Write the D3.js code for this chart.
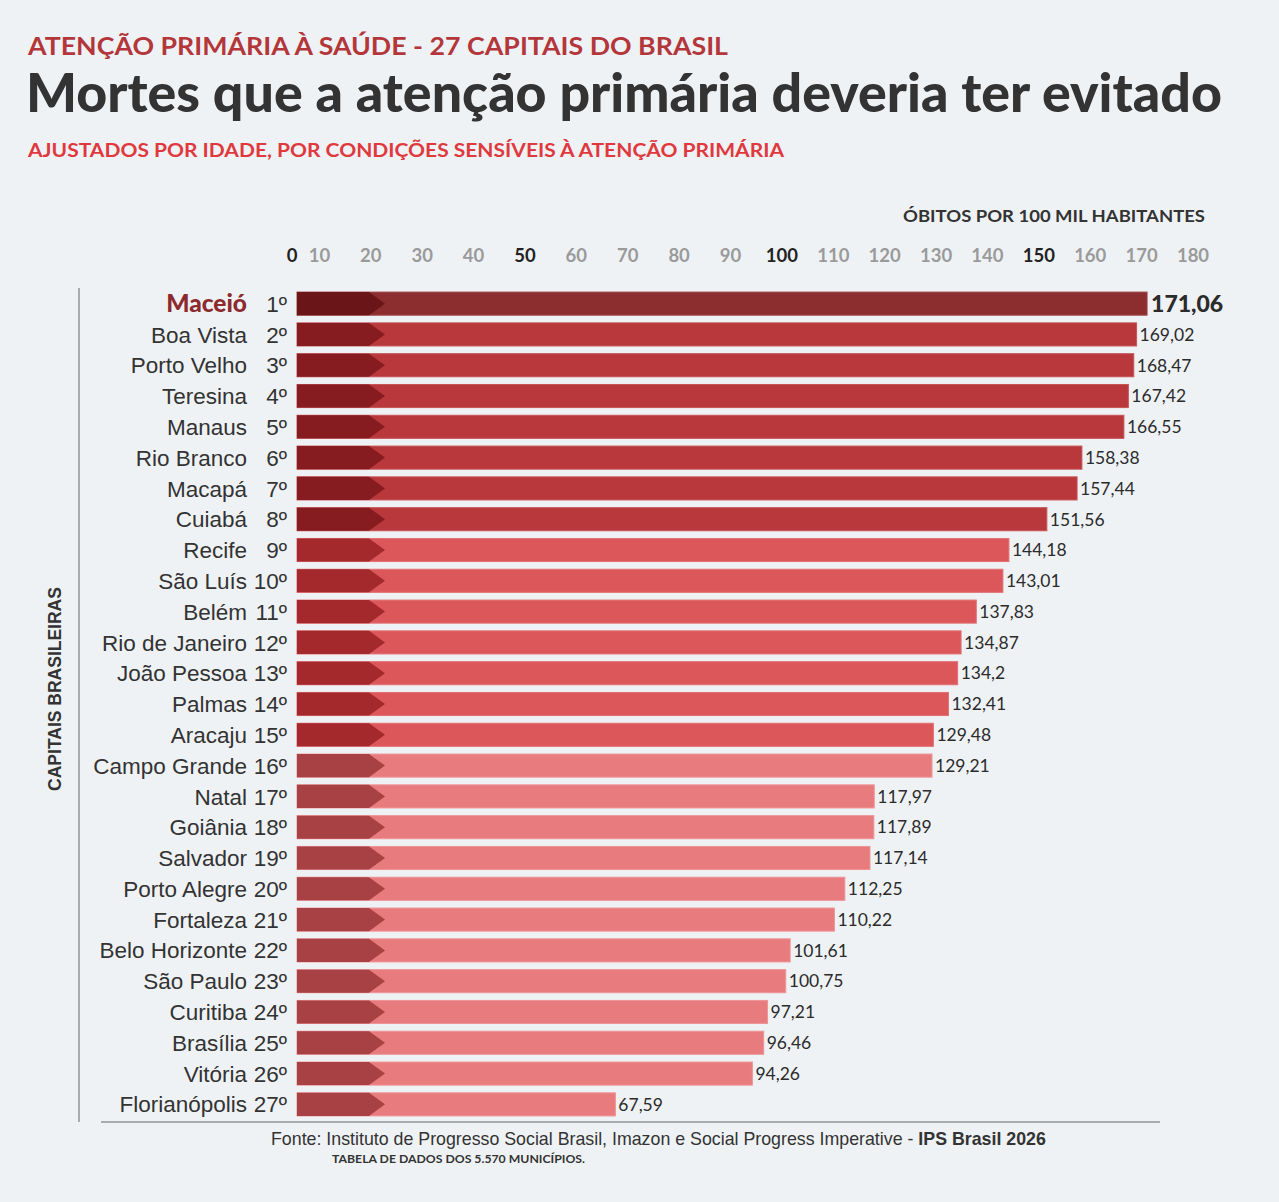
<!DOCTYPE html>
<html>
<head>
<meta charset="utf-8">
<script src="https://cdn.jsdelivr.net/npm/d3@7"></script>
<style>
  body { margin: 0; background: #eff2f5; }
  svg { display: block; }
</style>
</head>
<body>
<div id="chart"></div>
<script>
// Data
const cities = ["Maceió", "Boa Vista", "Porto Velho", "Teresina", "Manaus", "Rio Branco", "Macapá",
    "Cuiabá", "Recife", "São Luís", "Belém", "Rio de Janeiro", "João Pessoa", "Palmas", "Aracaju",
    "Campo Grande", "Natal", "Goiânia", "Salvador", "Porto Alegre", "Fortaleza", "Belo Horizonte",
    "São Paulo", "Curitiba", "Brasília", "Vitória", "Florianópolis"];
const values = [171.06, 169.02, 168.47, 167.42, 166.55, 158.38, 157.44, 151.56, 144.18, 143.01,
    137.83, 134.87, 134.2, 132.41, 129.48, 129.21, 117.97, 117.89, 117.14, 112.25, 110.22, 101.61,
    100.75, 97.21, 96.46, 94.26, 67.59];
const ticks = [0, 10, 20, 30, 40, 50, 60, 70, 80, 90, 100, 110, 120, 130, 140, 150, 160, 170, 180];
const majorTicks = [0, 50, 100, 150];

const data = cities.map((c, i) => ({ city: c, value: values[i], rank: i + 1 }));

const W = 1279, H = 1202;
const svg = d3.select("#chart").append("svg")
    .attr("width", W)
    .attr("height", H);

svg.append("rect").attr("width", W).attr("height", H).attr("fill", "#eff2f5");

// Scales
const barLeft = 297;
const x = d3.scaleLinear().domain([0, 180]).range([268, 1193]);
const y = d3.scaleBand()
    .domain(data.map(d => d.rank))
    .range([289, 1119])
    .paddingInner(0.25)
    .paddingOuter(0.1);

const mainColor = d3.scaleThreshold().domain([2, 9, 16])
    .range(["#8c2d2f", "#b9383b", "#dc575a", "#e77b7d"]);
const darkColor = d3.scaleThreshold().domain([2, 9, 16])
    .range(["#6a1619", "#861c20", "#a3292d", "#a74144"]);
const edgeColor = d3.scaleThreshold().domain([2, 9, 16])
    .range(["#9e4446", "#c65457", "#e27174", "#ee9496"]);

// Titles
svg.append("text")
    .attr("x", 28).attr("y", 55)
    .attr("textLength", 700).attr("lengthAdjust", "spacingAndGlyphs")
    .style("font-family", "Lato, 'Open Sans', sans-serif")
    .style("font-weight", "bold").style("font-size", "25px")
    .attr("fill", "#b3373a")
    .text("ATENÇÃO PRIMÁRIA À SAÚDE - 27 CAPITAIS DO BRASIL");

svg.append("text")
    .attr("x", 26).attr("y", 112)
    .attr("textLength", 1196).attr("lengthAdjust", "spacingAndGlyphs")
    .style("font-family", "Lato, 'Open Sans', sans-serif")
    .style("font-weight", "900").style("font-size", "54px")
    .attr("fill", "#333333")
    .text("Mortes que a atenção primária deveria ter evitado");

svg.append("text")
    .attr("x", 28).attr("y", 157)
    .attr("textLength", 756).attr("lengthAdjust", "spacingAndGlyphs")
    .style("font-family", "Lato, 'Open Sans', sans-serif")
    .style("font-weight", "bold").style("font-size", "19px")
    .attr("fill", "#df393e")
    .text("AJUSTADOS POR IDADE, POR CONDIÇÕES SENSÍVEIS À ATENÇÃO PRIMÁRIA");

// Axis title and tick labels on top
svg.append("text")
    .attr("x", 1205).attr("y", 222)
    .attr("text-anchor", "end")
    .attr("textLength", 302).attr("lengthAdjust", "spacingAndGlyphs")
    .style("font-family", "Lato, 'Open Sans', sans-serif")
    .style("font-weight", "bold").style("font-size", "17px")
    .attr("fill", "#333333")
    .text("ÓBITOS POR 100 MIL HABITANTES");

const xAxis = d3.axisTop(x).tickValues(ticks).tickSize(0).tickPadding(0);
const axisG = svg.append("g")
    .attr("transform", "translate(0,262)")
    .call(xAxis);
axisG.select(".domain").remove();
axisG.selectAll(".tick")
    .attr("transform", d => `translate(${Math.max(x(d), barLeft - 5)},0)`);
axisG.selectAll(".tick text")
    .style("font-family", "Lato, 'Open Sans', sans-serif")
    .style("font-weight", "bold").style("font-size", "18.5px")
    .attr("fill", d => majorTicks.includes(d) ? "#222222" : "#9a9a9a");

// Left axis line and bottom rule
svg.append("line")
    .attr("x1", 79).attr("x2", 79)
    .attr("y1", 288).attr("y2", 1122)
    .attr("stroke", "#a9abae").attr("stroke-width", 2);
svg.append("line")
    .attr("x1", 101).attr("x2", 1160)
    .attr("y1", 1122).attr("y2", 1122)
    .attr("stroke", "#a9abae").attr("stroke-width", 2);

svg.append("text")
    .attr("transform", "translate(61,689) rotate(-90)")
    .attr("text-anchor", "middle")
    .style("font-family", "'Liberation Sans', Arial, sans-serif")
    .style("font-weight", "bold").style("font-size", "17.5px")
    .attr("fill", "#333333")
    .text("CAPITAIS BRASILEIRAS");

// Bars
const bh = y.bandwidth();
const rows = svg.append("g").selectAll("g")
    .data(data)
    .enter().append("g")
    .attr("transform", d => `translate(0,${y(d.rank)})`);

rows.append("rect")
    .attr("x", barLeft)
    .attr("y", 0)
    .attr("width", d => x(d.value) - barLeft)
    .attr("height", bh)
    .attr("fill", d => mainColor(d.rank))
    .attr("stroke", d => edgeColor(d.rank))
    .attr("stroke-width", 1);

// dark arrow at the start of each bar
const arrowEnd = barLeft + 72, arrowTip = barLeft + 88;
rows.append("path")
    .attr("d", `M${barLeft},0 H${arrowEnd} L${arrowTip},${bh / 2} L${arrowEnd},${bh} H${barLeft} Z`)
    .attr("fill", d => darkColor(d.rank));

// City names and ranks
rows.append("text")
    .attr("x", 247)
    .attr("y", bh / 2)
    .attr("dy", "0.36em")
    .attr("text-anchor", "end")
    .style("font-family", d => d.rank === 1 ? "Lato, 'Open Sans', sans-serif" : "'Liberation Sans', Arial, sans-serif")
    .style("font-weight", d => d.rank === 1 ? "900" : "normal")
    .style("font-size", d => d.rank === 1 ? "24.5px" : "22.5px")
    .attr("fill", d => d.rank === 1 ? "#8c2a2d" : "#333333")
    .text(d => d.city);

rows.append("text")
    .attr("x", 287)
    .attr("y", bh / 2)
    .attr("dy", "0.36em")
    .attr("text-anchor", "end")
    .style("font-family", "'Liberation Sans', Arial, sans-serif")
    .style("font-size", "22.5px")
    .attr("fill", "#333333")
    .text(d => d.rank + "º");

// Value labels
const fmt = v => String(v).replace(".", ",");
rows.append("text")
    .attr("x", d => x(d.value) + (d.rank === 1 ? 4 : 3))
    .attr("y", bh / 2)
    .attr("dy", "0.36em")
    .style("font-family", "Lato, 'Open Sans', sans-serif")
    .style("font-weight", d => d.rank === 1 ? "900" : "normal")
    .style("font-size", d => d.rank === 1 ? "23px" : "17.5px")
    .attr("fill", "#2b2b2b")
    .text(d => d.rank === 1 ? d.value.toFixed(2).replace(".", ",") : fmt(d.value));

// Footer
const foot = svg.append("text")
    .attr("x", 271).attr("y", 1145)
    .style("font-family", "'Liberation Sans', Arial, sans-serif")
    .style("font-size", "17.8px")
    .attr("fill", "#333333");
foot.append("tspan").text("Fonte: Instituto de Progresso Social Brasil, Imazon e Social Progress Imperative - ");
foot.append("tspan").style("font-weight", "bold").text("IPS Brasil 2026");

svg.append("text")
    .attr("x", 332).attr("y", 1163)
    .attr("textLength", 253).attr("lengthAdjust", "spacingAndGlyphs")
    .style("font-family", "Lato, 'Open Sans', sans-serif")
    .style("font-weight", "bold").style("font-size", "11px")
    .attr("fill", "#333333")
    .text("TABELA DE DADOS DOS 5.570 MUNICÍPIOS.");
</script>
</body>
</html>
